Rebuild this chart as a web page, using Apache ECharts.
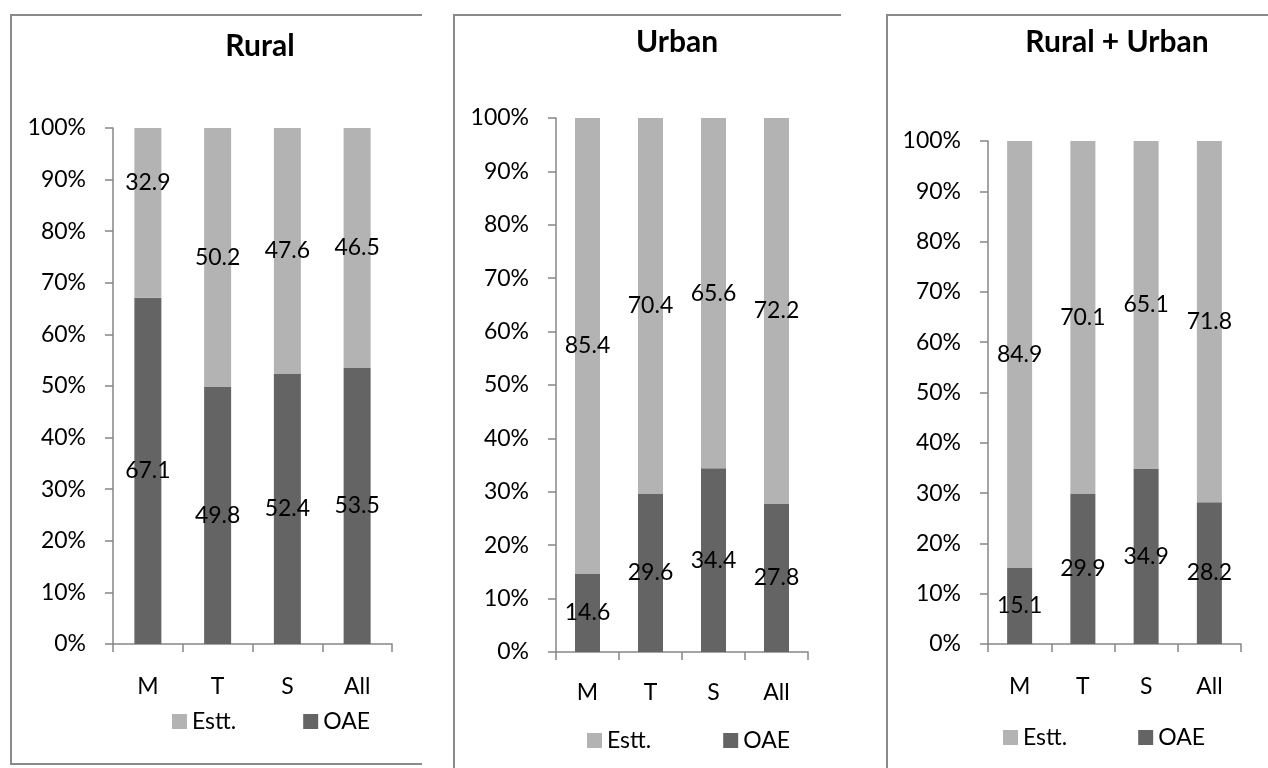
<!DOCTYPE html>
<html>
<head>
<meta charset="utf-8">
<style>
  html, body { margin: 0; padding: 0; background: #fff; }
  #chart { width: 1268px; height: 768px; }
</style>
<script src="https://cdn.jsdelivr.net/npm/echarts@6/dist/echarts.min.js"></script>
</head>
<body>
<div id="chart"></div>
<script>
// Shares of establishments (Estt.) and own-account enterprises (OAE), in %
const categories = ['M', 'T', 'S', 'All'];
const seriesNames = ['Estt.', 'OAE'];
const panelTitles = ['Rural', 'Urban', 'Rural + Urban'];

const ruralOAE  = [67.1, 49.8, 52.4, 53.5];
const ruralEstt = [32.9, 50.2, 47.6, 46.5];
const urbanOAE  = [14.6, 29.6, 34.4, 27.8];
const urbanEstt = [85.4, 70.4, 65.6, 72.2];
const bothOAE   = [15.1, 29.9, 34.9, 28.2];
const bothEstt  = [84.9, 70.1, 65.1, 71.8];

const yMin = 0, yMax = 100, yStep = 10;

const FONT = 'Lato, "Liberation Sans", sans-serif';
const COLOR_ESTT = '#b3b3b3';
const COLOR_OAE = '#646464';
const AXIS_COLOR = '#868686';
const FRAME_COLOR = '#8a8a8a';
const TEXT_SIZE = 23;

// layout of each panel: plot area, title, legend
const panels = [
  { oae: ruralOAE, estt: ruralEstt, grid: { left: 113, top: 128, width: 279, height: 516 },
    titleX: 260, titleY: 46, barWidth: 27, catMargin: 31,
    legendLeft: 172, legendTop: 710, legendGap: 67, esttOffsets: { 0: [0, -30] } },
  { oae: urbanOAE, estt: urbanEstt, grid: { left: 556, top: 118, width: 252, height: 534 },
    titleX: 677, titleY: 42, barWidth: 25, catMargin: 29,
    legendLeft: 587, legendTop: 729, legendGap: 72, esttOffsets: {} },
  { oae: bothOAE, estt: bothEstt, grid: { left: 988, top: 141, width: 253, height: 503 },
    titleX: 1117, titleY: 42, barWidth: 25, catMargin: 31,
    legendLeft: 1003, legendTop: 726, legendGap: 71, esttOffsets: {} }
];

const labelStyle = {
  show: true,
  position: 'inside',
  color: '#000',
  fontFamily: FONT,
  fontSize: TEXT_SIZE,
  formatter: p => Number(p.value).toFixed(1)
};

const grids = [], xAxes = [], yAxes = [], series = [], titles = [], legends = [];

panels.forEach((p, i) => {
  grids.push(Object.assign({ containLabel: false }, p.grid));
  titles.push({
    text: panelTitles[i],
    left: p.titleX, top: p.titleY,
    padding: 0,
    textAlign: 'center', textVerticalAlign: 'middle',
    textStyle: { fontFamily: FONT, fontWeight: 'bold', fontSize: 30, color: '#000' }
  });
  xAxes.push({
    type: 'category', gridIndex: i, data: categories,
    axisLine: { lineStyle: { color: AXIS_COLOR, width: 1.5 } },
    axisTick: { show: true, alignWithLabel: false, length: 8, lineStyle: { color: AXIS_COLOR, width: 1.5 } },
    axisLabel: { color: '#000', fontFamily: FONT, fontSize: TEXT_SIZE, margin: p.catMargin },
    splitLine: { show: false }
  });
  yAxes.push({
    type: 'value', gridIndex: i, min: yMin, max: yMax, interval: yStep,
    axisLine: { show: true, lineStyle: { color: AXIS_COLOR, width: 1.5 } },
    axisTick: { show: true, length: 8, lineStyle: { color: AXIS_COLOR, width: 1.5 } },
    axisLabel: { color: '#000', fontFamily: FONT, fontSize: TEXT_SIZE, margin: 27, formatter: '{value}%' },
    splitLine: { show: false }
  });
  series.push({
    name: 'OAE', type: 'bar', stack: 'p' + i, xAxisIndex: i, yAxisIndex: i,
    barWidth: p.barWidth, itemStyle: { color: COLOR_OAE },
    label: labelStyle,
    data: p.oae
  });
  series.push({
    name: 'Estt.', type: 'bar', stack: 'p' + i, xAxisIndex: i, yAxisIndex: i,
    barWidth: p.barWidth, itemStyle: { color: COLOR_ESTT },
    label: labelStyle,
    data: p.estt.map((v, k) => p.esttOffsets[k]
      ? { value: v, label: { offset: p.esttOffsets[k] } }
      : v)
  });
  legends.push({
    data: seriesNames,
    left: p.legendLeft, top: p.legendTop,
    padding: 0,
    orient: 'horizontal',
    icon: 'rect', itemWidth: 15, itemHeight: 15, itemGap: p.legendGap,
    selectedMode: false,
    textStyle: { fontFamily: FONT, fontSize: TEXT_SIZE, color: '#000' }
  });
});

// panel frames (left, top and bottom edges only)
const frameLine = pts => ({
  type: 'polyline', silent: true,
  shape: { points: pts },
  style: { stroke: FRAME_COLOR, lineWidth: 2, fill: null }
});

const chart = echarts.init(document.getElementById('chart'), null, { renderer: 'canvas' });
chart.setOption({
  animation: false,
  backgroundColor: '#fff',
  title: titles,
  legend: legends,
  grid: grids,
  xAxis: xAxes,
  yAxis: yAxes,
  series: series,
  graphic: [
    frameLine([[422, 15], [11, 15], [11, 764], [422, 764]]),
    frameLine([[841, 15], [454, 15], [454, 770]]),
    frameLine([[1270, 15], [887, 15], [887, 770]])
  ]
});
</script>
</body>
</html>
